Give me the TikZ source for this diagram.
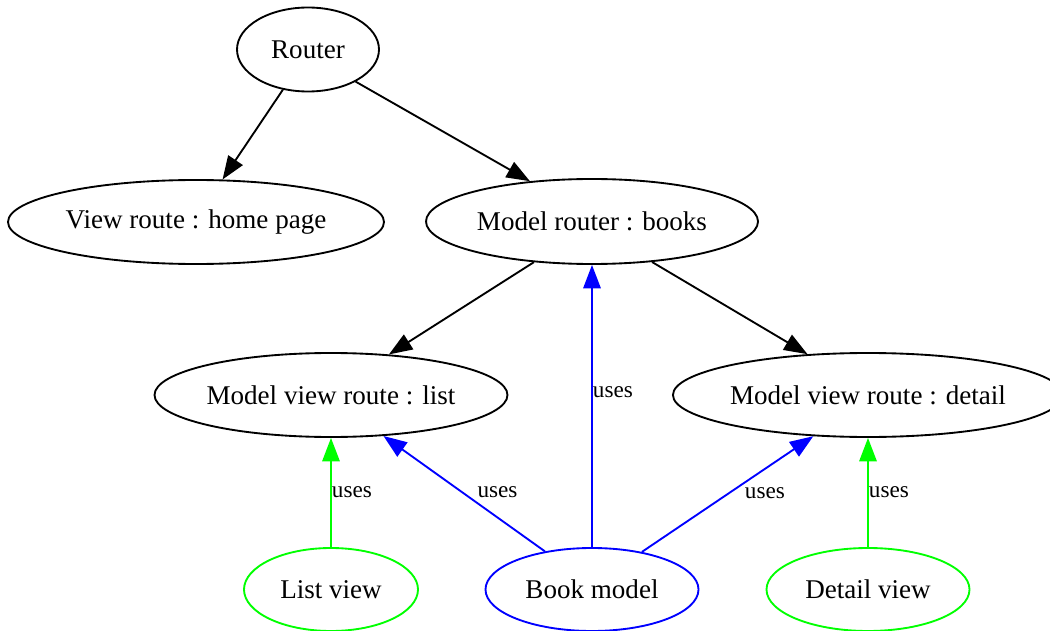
\documentclass[tikz,border=0pt]{standalone}
\usepackage{fontspec}
\setmainfont{Liberation Serif}
\usetikzlibrary{shapes.geometric,arrows.meta}
\begin{document}
\begin{tikzpicture}[x=0.75pt,y=-0.75pt,
  state/.style={ellipse, draw, line width=1.4pt, inner sep=0pt,
    font=\fontsize{20.3}{24}\selectfont},
  link/.style={line width=1.4pt, -{Triangle[length=17.5pt,width=13pt]}},
  uses/.style={link, blue},
  viewuses/.style={link, green},
  lbl/.style={font=\fontsize{17.4}{20}\selectfont, inner sep=0pt, anchor=west, text=black}]
\clip (0,0) rectangle (1050,631);

% routing tree
\node[state, minimum width=106.5pt, minimum height=63pt] (router) at (308,49.5) {Router};
\node[state, minimum width=282pt, minimum height=63pt] (home) at (196,222) {View route : home page};
\node[state, minimum width=249pt, minimum height=63.75pt] (books) at (592,221.5) {Model router : books};
\node[state, minimum width=264.75pt, minimum height=63pt] (list) at (331,395) {Model view route : list};
\node[state, minimum width=291pt, minimum height=63pt] (detail) at (868,395) {Model view route : detail};

% model and views
\node[state, green, text=black, minimum width=130.5pt, minimum height=62.25pt] (listview) at (331,589.5) {List view};
\node[state, blue, text=black, minimum width=159.75pt, minimum height=62.25pt] (bookmodel) at (592,589.5) {Book model};
\node[state, green, text=black, minimum width=152.25pt, minimum height=62.25pt] (detailview) at (868,589.5) {Detail view};

% routes
\draw[link] (router.-122) -- (home.58);
\draw[link] (router.-34) -- (books.147);
\draw[link] (books.-145) -- (list.35);
\draw[link] (books.-34) -- (detail.146);

% dependencies
\draw[uses] (bookmodel.north) -- node[lbl, pos=0.55] {uses} (books.south);
\draw[uses] (bookmodel.141) -- node[lbl, pos=0.51, xshift=10.5pt] {uses} (list.-38);
\draw[uses] (bookmodel.37) -- node[lbl, pos=0.51, xshift=11pt] {uses} (detail.-143);
\draw[viewuses] (listview.north) -- node[lbl, pos=0.5] {uses} (list.south);
\draw[viewuses] (detailview.north) -- node[lbl, pos=0.5] {uses} (detail.south);
\end{tikzpicture}
\end{document}
